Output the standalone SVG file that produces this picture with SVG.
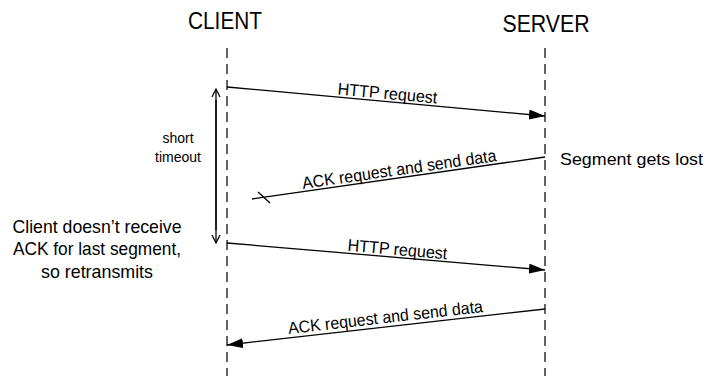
<svg xmlns="http://www.w3.org/2000/svg" width="706" height="376" viewBox="0 0 706 376">
  <style>
    text { font-family: "Liberation Sans", Arial, sans-serif; fill: #000; }
    .head { font-size: 24px; }
    .lbl { font-size: 17px; }
    .note { font-size: 18.5px; }
    .small { font-size: 14px; }
    .life { stroke: #222; stroke-width: 1.4; stroke-dasharray: 10 6; fill: none; }
    .msg { stroke: #000; stroke-width: 1.3; fill: none; }
  </style>
  <defs>
    <marker id="solid" viewBox="0 0 16 10" refX="16" refY="5" markerWidth="16" markerHeight="10" markerUnits="userSpaceOnUse" orient="auto">
      <path d="M0,0 L16,5 L0,10 Z" fill="#000"/>
    </marker>
    <marker id="open" viewBox="0 0 10 10" refX="9" refY="5" markerWidth="10" markerHeight="10" markerUnits="userSpaceOnUse" orient="auto">
      <path d="M1,1 L9,5 L1,9" fill="none" stroke="#000" stroke-width="1.2"/>
    </marker>
  </defs>

  <g id="client">
    <text class="head" x="225" y="29" text-anchor="middle" textLength="74" lengthAdjust="spacingAndGlyphs">CLIENT</text>
    <line class="life" x1="227" y1="48" x2="227" y2="376"/>
  </g>

  <g id="server">
    <text class="head" x="546" y="32" text-anchor="middle" textLength="87" lengthAdjust="spacingAndGlyphs">SERVER</text>
    <line class="life" x1="545" y1="48" x2="545" y2="376"/>
  </g>

  <g id="timeout">
    <line class="msg" x1="216" y1="230" x2="216" y2="89" marker-end="url(#open)"/>
    <line class="msg" x1="216" y1="100" x2="216" y2="243" marker-end="url(#open)"/>
    <text class="small" x="178" y="143" text-anchor="middle">short</text>
    <text class="small" x="178" y="162" text-anchor="middle">timeout</text>
  </g>

  <g id="retransmit-note">
    <text class="note" x="97" y="233" text-anchor="middle" textLength="169" lengthAdjust="spacingAndGlyphs">Client doesn’t receive</text>
    <text class="note" x="97" y="255" text-anchor="middle" textLength="168" lengthAdjust="spacingAndGlyphs">ACK for last segment,</text>
    <text class="note" x="97" y="278" text-anchor="middle" textLength="112" lengthAdjust="spacingAndGlyphs">so retransmits</text>
  </g>

  <g id="lost-note">
    <text class="lbl" x="560" y="165" textLength="143" lengthAdjust="spacingAndGlyphs">Segment gets lost</text>
  </g>

  <g id="connectors">
    <line class="msg" x1="227" y1="87" x2="545" y2="116" marker-end="url(#solid)"/>
    <text class="lbl" transform="translate(387,99) rotate(5.2)" text-anchor="middle" textLength="100" lengthAdjust="spacingAndGlyphs">HTTP request</text>

    <line class="msg" x1="545" y1="157" x2="252" y2="199"/>
    <line class="msg" x1="258" y1="192" x2="270" y2="203"/>
    <text class="lbl" transform="translate(400,175) rotate(-8.2)" text-anchor="middle" textLength="196" lengthAdjust="spacingAndGlyphs">ACK request and send data</text>

    <line class="msg" x1="227" y1="243" x2="545" y2="270" marker-end="url(#solid)"/>
    <text class="lbl" transform="translate(397,255) rotate(4.9)" text-anchor="middle" textLength="100" lengthAdjust="spacingAndGlyphs">HTTP request</text>

    <line class="msg" x1="545" y1="309" x2="227" y2="345" marker-end="url(#solid)"/>
    <text class="lbl" transform="translate(386,323) rotate(-6.5)" text-anchor="middle" textLength="196" lengthAdjust="spacingAndGlyphs">ACK request and send data</text>
  </g>
</svg>
